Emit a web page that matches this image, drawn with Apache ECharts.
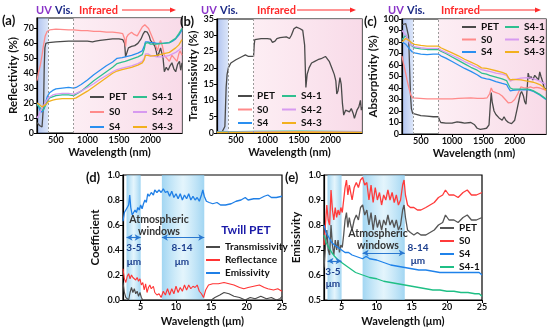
<!DOCTYPE html>
<html><head><meta charset="utf-8">
<script src="https://cdn.jsdelivr.net/npm/echarts@6/dist/echarts.min.js"></script>
<style>html,body{margin:0;padding:0;background:#fff}#c{width:550px;height:335px}</style>
</head><body><div id="c"></div>
<script>
// ---------- tick labels ----------
const nmTicks = [500, 1000, 1500, 2000];
const umTicks = [5, 10, 15, 20, 25];
const reflTicks = [0, 10, 20, 30, 40, 50, 60, 70];
const transTicks = [0, 5, 10, 15, 20, 25, 30, 35];
const absTicks = [0, 10, 20, 30, 40, 50, 60, 70, 80, 90, 100];
const coefTicks = [0, 0.2, 0.4, 0.6, 0.8, 1.0];
const emisTicks = [0.5, 0.6, 0.7, 0.8, 0.9, 1.0];
const namesA = ['PET', 'S0', 'S4', 'S4-1', 'S4-2', 'S4-3'];
const namesD = ['Transmissivity', 'Reflectance', 'Emissivity'];
const namesE = ['PET', 'S0', 'S4', 'S4-1'];

// ---------- (a) Reflectivity (%) vs wavelength (nm) ----------
const aPET = [[200,7],[220,6],[240,5],[260,4.5],[280,4],[295,5],[305,20],[315,45],[325,57],[340,60],[380,60.5],[500,61],[700,61.5],[780,61.5],[900,61.5],[1000,61.5],[1080,61],[1100,60.5],[1130,61.5],[1200,62],[1300,62.5],[1400,63],[1500,63],[1560,62.5],[1590,60],[1605,51],[1625,52],[1650,57],[1700,58],[1750,58.5],[1800,60],[1850,63],[1880,66],[1910,68],[1950,67.5],[1980,65],[2000,62],[2040,60],[2070,58],[2090,55],[2110,51],[2130,53],[2160,57],[2180,58],[2200,50],[2220,41],[2250,44],[2280,42],[2310,45],[2340,47],[2370,43],[2400,41],[2430,46],[2460,48],[2480,42],[2500,47]];
const aS0 = [[200,35],[220,40],[250,45],[280,52],[300,58],[330,65],[360,68],[400,69],[500,69.5],[700,69],[780,69],[900,68.5],[1000,68.5],[1100,68],[1200,68],[1300,67.5],[1400,67.5],[1500,67],[1560,66.5],[1590,63],[1605,58],[1620,64],[1650,66],[1700,67.5],[1740,66],[1790,65],[1830,68],[1870,71],[1910,72.5],[1940,72],[1970,70],[2000,67],[2040,63],[2080,59],[2110,55],[2140,60],[2160,62],[2190,58],[2220,52],[2260,50],[2300,48],[2340,52],[2380,50],[2420,48],[2450,53],[2470,55],[2500,52]];
const aS4 = [[200,20],[230,17],[260,14],[280,13],[300,15],[330,19],[360,24],[400,27],[450,28.5],[500,29.5],[600,30],[700,30.5],[780,30],[820,30.5],[900,32.5],[1000,35.5],[1100,39],[1200,42],[1300,45],[1400,47.5],[1470,50],[1550,50.5],[1600,51],[1700,52],[1800,53.5],[1870,55],[1900,58],[1920,61],[1960,61],[2000,60.5],[2050,60.5],[2100,60],[2150,60],[2200,60],[2300,60.5],[2350,61.5],[2400,63],[2450,65.5],[2500,69]];
const aS41 = [[200,19],[230,18],[260,16.5],[290,15],[320,17],[360,21],[400,23.5],[500,25],[600,25.5],[700,25.5],[780,25],[820,26],[900,28],[1000,31.5],[1100,35],[1200,38],[1300,41],[1400,44],[1470,46.5],[1550,47.5],[1600,48],[1700,49.5],[1800,51],[1870,52.5],[1900,56],[1920,60],[1960,60.5],[2000,59.5],[2100,59.5],[2200,60],[2300,60.5],[2350,62],[2400,63.5],[2450,66.5],[2500,70]];
const aS42 = [[200,10],[230,12],[260,15],[300,18],[340,21],[380,23.5],[450,25.5],[500,26],[600,26.5],[700,26.5],[780,26],[820,26.5],[900,28],[1000,30.5],[1100,33],[1200,36],[1300,38.5],[1400,41],[1470,42.5],[1550,43.5],[1600,44],[1700,45],[1800,46.5],[1870,48],[1900,50],[1920,53],[1960,53],[2000,52],[2100,51],[2200,51],[2300,52],[2400,54],[2450,55.5],[2500,57.5]];
const aS43 = [[200,20],[240,19],[280,17.5],[310,17.5],[340,19],[380,21],[450,22],[500,22.5],[600,23],[700,23],[780,23],[820,23.5],[900,25.5],[1000,28],[1100,31],[1200,34],[1300,37],[1400,40],[1470,41.5],[1550,42.5],[1600,43],[1700,44],[1800,45.5],[1870,47],[1900,49],[1920,52],[1960,52],[2000,51.5],[2100,52],[2200,53],[2300,54],[2400,57],[2450,59],[2500,62.5]];

// ---------- (b) Transmissivity (%) ----------
const bPET = [[200,0.2],[280,0.3],[310,0.5],[325,2],[335,8],[345,14],[360,18],[380,20],[420,21.5],[500,22.5],[600,23.5],[650,24],[700,23.5],[780,23.5],[790,27],[800,28.7],[900,29],[1000,29],[1050,28.8],[1080,27.8],[1120,28.2],[1150,29],[1200,29.3],[1300,29.5],[1350,29],[1380,30],[1420,32],[1460,32.5],[1520,32],[1560,31.5],[1590,27],[1610,14],[1630,18],[1660,20],[1700,21.5],[1750,22],[1800,22.5],[1850,22.8],[1880,23],[1920,23.5],[1950,23.2],[1980,22],[2020,20],[2060,18],[2085,16],[2100,12],[2120,13],[2150,17],[2170,15],[2190,9],[2210,5.5],[2240,7],[2265,7.5],[2300,6.5],[2330,7.5],[2360,6],[2380,4.5],[2420,7],[2450,8],[2475,10],[2490,7],[2500,8]];
const bS0 = [[200,0.3],[800,0.3],[1500,0.4],[2500,0.3]];
const bS4 = [[200,0.1],[800,0.2],[1500,0.3],[2500,0.2]];
const bS41 = [[200,0.3],[800,0.5],[1500,0.6],[2500,0.4]];
const bS42 = [[200,0.2],[800,0.3],[1500,0.4],[2500,0.3]];
const bS43 = [[200,0.1],[800,0.2],[1500,0.3],[2500,0.2]];

// ---------- (c) Absorptivity (%) ----------
const cPET = [[200,95],[220,96],[260,96],[290,95],[305,85],[320,60],[335,35],[350,22],[370,18],[400,17],[500,16],[600,15.5],[700,15],[780,15],[800,12],[820,10],[900,9.5],[1000,9.5],[1080,10.5],[1110,11],[1150,10],[1200,9.5],[1300,10],[1330,10.5],[1360,8],[1400,5],[1450,4],[1500,4.5],[1550,5],[1590,8],[1610,25],[1625,36],[1640,28],[1670,20],[1700,17],[1750,14],[1800,12],[1830,15],[1860,12],[1900,10],[1950,9],[2000,12],[2040,22],[2070,30],[2090,35],[2110,37],[2140,33],[2160,28],[2180,26],[2200,40],[2215,53],[2240,48],[2260,50],[2290,47],[2320,51],[2350,49],[2380,47],[2400,54],[2420,50],[2450,45],[2470,40],[2500,39]];
const cS0 = [[200,68],[220,62],[250,55],[280,47],[310,40],[340,34],[370,31.5],[400,30.5],[600,30.5],[780,30.5],[1000,30.5],[1100,31],[1300,31.5],[1400,31],[1500,31],[1560,31.5],[1600,35],[1625,40],[1650,37],[1700,36],[1750,35],[1800,33],[1850,30],[1900,27],[1950,27.5],[2000,30],[2050,35],[2100,41],[2130,42],[2160,40],[2200,40],[2250,41],[2300,40],[2350,40.5],[2400,40],[2450,39],[2500,38]];
const cS4 = [[200,80],[230,79],[260,78],[290,77],[320,74],[360,71.5],[400,70.5],[500,69.5],[600,69],[700,69.5],[780,69.5],[820,68],[900,66],[1000,63],[1100,60],[1200,57],[1300,54.5],[1400,51.5],[1470,49],[1550,48],[1600,47.5],[1700,45.5],[1800,44],[1870,43],[1900,40],[1930,37.5],[1970,38],[2000,38],[2100,38.5],[2200,38.5],[2250,38],[2300,37],[2350,35.5],[2400,34],[2450,32],[2500,30]];
const cS41 = [[200,82],[230,84],[260,86],[280,85.5],[310,81],[350,77],[400,75],[500,74],[600,73.5],[700,73.5],[780,73.5],[820,72],[900,70],[1000,67],[1100,64],[1200,61],[1300,58],[1400,55.5],[1470,53],[1550,52],[1600,51],[1700,49.5],[1800,48],[1870,46.5],[1900,43],[1930,40],[1970,39],[2000,39],[2100,39],[2200,39],[2250,38.5],[2300,37.5],[2350,36],[2400,34.5],[2450,32.5],[2500,30.5]];
const cS42 = [[200,90],[230,88],[260,86],[290,83],[320,79],[360,77],[400,76],[500,75],[600,74.5],[700,74.5],[780,74.5],[820,73],[900,71],[1000,68.5],[1100,66],[1200,63],[1300,60.5],[1400,58],[1470,56],[1550,55],[1600,54.5],[1700,53],[1800,52],[1870,51],[1900,48],[1930,46],[1970,47],[2000,47.5],[2100,48.5],[2200,49],[2250,48.5],[2300,48],[2350,47],[2400,46],[2450,44.5],[2500,43]];
const cS43 = [[200,80],[230,81.5],[260,83],[290,82.5],[320,81],[360,79],[400,78],[500,77],[600,76.5],[700,76.5],[780,76.5],[820,75],[900,73],[1000,70.5],[1100,68],[1200,65],[1300,62.5],[1400,60],[1470,57.5],[1550,57],[1600,56.5],[1700,55],[1800,53.5],[1870,52],[1900,49],[1930,47],[1970,47.5],[2000,47.5],[2100,47],[2200,46],[2300,45],[2350,44],[2400,43],[2450,41],[2500,38]];

// ---------- (d) Twill PET coefficients vs wavelength (µm) ----------
const dEmis = [[2.5,0.63],[2.7,0.70],[2.9,0.72],[3.1,0.73],[3.3,0.76],[3.45,0.84],[3.6,0.74],[3.8,0.68],[4.0,0.70],[4.2,0.72],[4.4,0.70],[4.6,0.74],[4.8,0.72],[5.0,0.76],[5.2,0.73],[5.4,0.77],[5.6,0.80],[5.8,0.78],[6.0,0.85],[6.2,0.83],[6.5,0.86],[6.8,0.84],[7.0,0.88],[7.3,0.86],[7.6,0.88],[7.9,0.86],[8.2,0.89],[8.5,0.86],[8.8,0.87],[9.1,0.83],[9.4,0.87],[9.7,0.82],[10.0,0.85],[10.3,0.81],[10.6,0.85],[10.9,0.80],[11.2,0.84],[11.5,0.81],[11.8,0.85],[12.1,0.80],[12.4,0.83],[12.7,0.80],[13.0,0.82],[13.3,0.79],[13.6,0.84],[13.8,0.88],[14.0,0.83],[14.3,0.79],[14.7,0.78],[15.2,0.77],[15.8,0.78],[16.3,0.76],[17,0.76],[17.8,0.77],[18.5,0.79],[19.2,0.80],[19.8,0.82],[20.2,0.80],[21,0.81],[21.8,0.81],[22.5,0.83],[23,0.84],[23.5,0.82],[24.2,0.82],[25,0.83]];
const dRefl = [[2.5,0.25],[2.7,0.17],[2.9,0.14],[3.1,0.19],[3.3,0.21],[3.5,0.17],[3.7,0.20],[3.9,0.18],[4.1,0.19],[4.3,0.16],[4.5,0.18],[4.7,0.15],[4.9,0.17],[5.1,0.12],[5.3,0.14],[5.5,0.08],[5.7,0.13],[5.9,0.06],[6.1,0.10],[6.3,0.12],[6.5,0.09],[6.8,0.11],[7.0,0.06],[7.3,0.04],[7.6,0.05],[7.9,0.02],[8.2,0.07],[8.5,0.04],[8.8,0.09],[9.1,0.04],[9.4,0.09],[9.7,0.05],[10.0,0.11],[10.3,0.06],[10.6,0.10],[10.9,0.07],[11.2,0.12],[11.5,0.08],[11.8,0.12],[12.1,0.09],[12.4,0.11],[12.7,0.10],[13.0,0.12],[13.3,0.07],[13.6,0.05],[13.9,0.02],[14.2,0.08],[14.6,0.12],[15.2,0.13],[16,0.13],[16.8,0.14],[17.5,0.13],[18.2,0.12],[19,0.10],[19.6,0.09],[20.2,0.10],[21,0.11],[21.8,0.12],[22.5,0.10],[23,0.09],[23.8,0.08],[24.4,0.09],[25,0.07]];
const dTrans = [[2.5,0.14],[2.7,0.06],[2.9,0.02],[3.1,0.01],[3.3,0.0],[3.5,0.06],[3.7,0.10],[3.9,0.06],[4.1,0.09],[4.3,0.05],[4.5,0.07],[4.7,0.03],[4.9,0.06],[5.1,0.02],[5.3,0.0],[6,0.0],[10,0.0],[14,0.0],[15,0.0],[15.5,0.02],[16.2,0.04],[16.8,0.06],[17.5,0.05],[18.2,0.03],[19,0.02],[19.8,0.0],[20.5,0.02],[21.2,0.01],[22,0.03],[22.8,0.01],[23.5,0.02],[24.2,0.0],[24.7,0.01],[25,0.03]];

// ---------- (e) Emissivity vs wavelength (µm) ----------
const ePET = [[2.5,0.63],[2.7,0.71],[2.9,0.78],[3.1,0.70],[3.3,0.68],[3.5,0.80],[3.7,0.72],[3.9,0.68],[4.1,0.74],[4.3,0.70],[4.5,0.74],[4.7,0.69],[4.9,0.72],[5.1,0.71],[5.3,0.76],[5.5,0.82],[5.7,0.85],[5.9,0.79],[6.1,0.83],[6.3,0.80],[6.5,0.78],[6.8,0.82],[7.1,0.84],[7.4,0.82],[7.7,0.87],[8.0,0.88],[8.3,0.84],[8.6,0.86],[8.9,0.80],[9.2,0.85],[9.5,0.78],[9.8,0.84],[10.1,0.79],[10.4,0.82],[10.7,0.78],[11.0,0.82],[11.3,0.80],[11.6,0.84],[11.9,0.80],[12.2,0.82],[12.5,0.79],[12.8,0.82],[13.1,0.78],[13.4,0.80],[13.7,0.86],[13.9,0.88],[14.1,0.83],[14.4,0.78],[14.8,0.77],[15.3,0.76],[15.8,0.77],[16.3,0.76],[17,0.76],[17.6,0.77],[18.2,0.78],[18.8,0.80],[19.4,0.81],[19.8,0.84],[20.3,0.82],[21,0.82],[21.6,0.81],[22.3,0.83],[22.9,0.84],[23.5,0.82],[24.2,0.82],[25,0.83]];
const eS0 = [[2.5,0.72],[2.7,0.80],[2.9,0.88],[3.1,0.82],[3.3,0.80],[3.5,0.94],[3.7,0.86],[3.9,0.82],[4.1,0.87],[4.3,0.83],[4.5,0.86],[4.7,0.84],[4.9,0.87],[5.1,0.85],[5.3,0.90],[5.5,0.95],[5.7,0.98],[5.9,0.92],[6.1,0.96],[6.3,0.93],[6.5,0.90],[6.8,0.95],[7.1,0.97],[7.4,0.95],[7.7,0.98],[8.0,0.99],[8.3,0.96],[8.6,0.97],[8.9,0.90],[9.2,0.96],[9.5,0.89],[9.8,0.95],[10.1,0.90],[10.4,0.93],[10.7,0.88],[11.0,0.92],[11.3,0.90],[11.6,0.94],[11.9,0.90],[12.2,0.93],[12.5,0.89],[12.8,0.92],[13.1,0.88],[13.4,0.90],[13.7,0.96],[13.9,0.98],[14.1,0.92],[14.4,0.88],[14.8,0.87],[15.3,0.87],[15.8,0.86],[16.3,0.86],[17,0.87],[17.6,0.88],[18.2,0.89],[18.8,0.91],[19.4,0.92],[19.8,0.94],[20.3,0.92],[21,0.92],[21.6,0.91],[22.3,0.93],[22.9,0.94],[23.5,0.92],[24.2,0.92],[25,0.93]];
const eS4 = [[2.5,0.80],[2.8,0.77],[3.2,0.75],[3.6,0.73],[4.0,0.72],[4.5,0.71],[5.0,0.70],[5.5,0.69],[6.0,0.69],[6.5,0.68],[7.0,0.675],[7.5,0.67],[8.0,0.665],[8.5,0.675],[9.0,0.665],[10,0.66],[11,0.65],[12,0.64],[13,0.635],[14,0.63],[15,0.625],[16,0.62],[17,0.62],[18,0.615],[19,0.61],[20,0.61],[21,0.61],[22,0.61],[23,0.61],[24,0.61],[24.6,0.61],[25,0.60]];
const eS41 = [[2.5,0.76],[2.8,0.73],[3.2,0.71],[3.6,0.69],[4.0,0.675],[4.5,0.66],[5.0,0.65],[5.5,0.64],[6.0,0.63],[6.5,0.62],[7.0,0.61],[8,0.60],[9,0.59],[10,0.585],[11,0.575],[12,0.57],[13,0.565],[14,0.56],[15,0.555],[16,0.55],[17,0.545],[18,0.54],[19,0.54],[20,0.535],[21,0.535],[22,0.53],[23,0.53],[24,0.525],[24.6,0.525],[25,0.515]];

// ---------- styling ----------
const F = 'Lato';
const colA = {'PET':'#4a4a4a','S0':'#ff8a8a','S4':'#2a8ff0','S4-1':'#2fbf8f','S4-2':'#d79af0','S4-3':'#f2b01e'};
const colD = {'Transmissivity':'#4a4a4a','Reflectance':'#ff3434','Emissivity':'#1f7fe6'};
const colE = {'PET':'#555555','S0':'#ff3b3b','S4':'#1f82ea','S4-1':'#1fbf85'};

const gridsPos = [
  {left:37, top:18, width:145, height:115},
  {left:217, top:19, width:145, height:114},
  {left:402, top:19, width:144, height:115},
  {left:123, top:175, width:159, height:125},
  {left:324, top:175, width:158, height:125}
];
const grid = gridsPos.map(g => Object.assign({show:true, borderColor:'#000', borderWidth:1.2, backgroundColor:'transparent'}, g));

const axLabel = {fontFamily:F, fontWeight:'bold', fontSize:9, color:'#111', margin:3};
const nameStyle = {fontFamily:F, fontWeight:'bold', fontSize:11, color:'#111'};
function xAx(i, min, max, ticks, name, gap) {
  return {gridIndex:i, type:'value', min, max, name, nameLocation:'middle', nameGap:gap, nameTextStyle:nameStyle,
    axisLine:{show:true, lineStyle:{color:'#000', width:1.2}}, splitLine:{show:false},
    axisTick:{show:true, length:3, customValues:ticks, lineStyle:{color:'#000'}},
    axisLabel:Object.assign({customValues:ticks, formatter:v => String(v)}, axLabel)};
}
function yAx(i, min, max, ticks, name, gap, fmt) {
  return {gridIndex:i, type:'value', min, max, name, nameLocation:'middle', nameGap:gap, nameRotate:90,
    nameTextStyle:Object.assign({}, nameStyle, {fontSize:11.5}),
    axisLine:{show:true, lineStyle:{color:'#000', width:1.2}}, splitLine:{show:false},
    axisTick:{show:true, length:3, customValues:ticks, lineStyle:{color:'#000'}},
    axisLabel:Object.assign({customValues:ticks, formatter:fmt || (v => String(v))}, axLabel)};
}
const xAxis = [
  xAx(0, 200, 2500, nmTicks, 'Wavelength (nm)', 14),
  xAx(1, 200, 2500, nmTicks, 'Wavelength (nm)', 14),
  xAx(2, 200, 2500, nmTicks, 'Wavelength (nm)', 14),
  xAx(3, 2.5, 25, umTicks, 'Wavelength (μm)', 16),
  xAx(4, 2.5, 25, umTicks, 'Wavelength (μm)', 16)
];
const yAxis = [
  yAx(0, 0, 77, reflTicks, 'Reflectivity (%)', 18),
  yAx(1, 0, 35, transTicks, 'Transmissivity (%)', 18),
  yAx(2, 0, 100, absTicks, 'Absorptivity (%)', 22),
  yAx(3, 0, 1.0, coefTicks, 'Coefficient', 22, v => v.toFixed(1)),
  yAx(4, 0.5, 1.0, emisTicks, 'Emissivity', 22, v => v.toFixed(1))
];

const uvGrad = {type:'linear', x:0, y:0, x2:1, y2:0, colorStops:[{offset:0, color:'rgba(110,145,228,0.55)'},{offset:1, color:'rgba(175,198,240,0.45)'}]};
const irGrad = {type:'linear', x:0, y:0, x2:1, y2:0, colorStops:[{offset:0, color:'rgba(252,232,240,0.75)'},{offset:1, color:'rgba(247,212,228,0.85)'}]};
const winGrad = {type:'linear', x:0, y:0, x2:1, y2:0, colorStops:[{offset:0, color:'rgba(130,200,238,0.75)'},{offset:0.5, color:'rgba(205,236,250,0.55)'},{offset:1, color:'rgba(130,200,238,0.75)'}]};

function specMarks() {
  return {
    markArea:{silent:true, z:0, data:[
      [{xAxis:200, itemStyle:{color:uvGrad}}, {xAxis:380}],
      [{xAxis:780, itemStyle:{color:irGrad}}, {xAxis:2500}]
    ]},
    markLine:{silent:true, symbol:'none', label:{show:false}, lineStyle:{color:'#9a9a9a', type:[2,2], width:1},
      data:[{xAxis:380}, {xAxis:780}]}
  };
}
function winMarks(yArrow35, yArrow814) {
  return {
    markArea:{silent:true, z:0, data:[
      [{xAxis:3, itemStyle:{color:winGrad}}, {xAxis:5}],
      [{xAxis:8, itemStyle:{color:winGrad}}, {xAxis:14}]
    ]},
    markLine:{silent:true, symbol:['arrow','arrow'], symbolSize:[5,6], label:{show:false},
      lineStyle:{color:'#2a78d0', type:'solid', width:1.2},
      data:[[{coord:[3, yArrow35]}, {coord:[5, yArrow35]}], [{coord:[8, yArrow814]}, {coord:[14, yArrow814]}]]}
  };
}
function line(i, name, data, color, width, extra) {
  return Object.assign({type:'line', name, xAxisIndex:i, yAxisIndex:i, data, showSymbol:false, symbol:'none',
    lineStyle:{color, width}, itemStyle:{color}, animation:false, z:3}, extra || {});
}

const series = [];
const aData = [aPET, aS0, aS4, aS41, aS42, aS43];
const bData = [bPET, bS0, bS4, bS41, bS42, bS43];
const cData = [cPET, cS0, cS4, cS41, cS42, cS43];
[aData, bData, cData].forEach((arr, gi) => {
  arr.forEach((d, k) => {
    const nm = namesA[k];
    series.push(line(gi, nm, d, colA[nm], 1.3, k === 0 ? specMarks() : null));
  });
});
series.push(line(3, 'Transmissivity', dTrans, colD['Transmissivity'], 1.1, winMarks(0.5, 0.5)));
series.push(line(3, 'Reflectance', dRefl, colD['Reflectance'], 1.1));
series.push(line(3, 'Emissivity', dEmis, colD['Emissivity'], 1.3));
[ePET, eS0, eS4, eS41].forEach((d, k) => {
  const nm = namesE[k];
  series.push(line(4, nm, d, colE[nm], 1.3, k === 0 ? winMarks(0.656, 0.688) : null));
});

const legTxt = {fontFamily:F, fontWeight:'bold', fontSize:10, color:'#111', lineHeight:12};
function leg(left, top, names, cmap, gap) {
  return {left, top, orient:'vertical', icon:'rect', itemWidth:14, itemHeight:2, itemGap:gap, padding:0,
    selectedMode:false, textStyle:legTxt,
    data:names.map(n => ({name:n, itemStyle:{color:cmap[n]}}))};
}
const legend = [
  leg(90, 91, namesA.slice(0,3), colA, 3),
  leg(133, 91, namesA.slice(3), colA, 3),
  leg(238, 90, namesA.slice(0,3), colA, 1.5),
  leg(282, 90, namesA.slice(3), colA, 1.5),
  leg(462, 21, namesA.slice(0,3), colA, 0.5),
  leg(505, 21, namesA.slice(3), colA, 0.5),
  leg(206, 241, namesD, colD, 1),
  leg(440, 222, namesE, colE, 1)
];

// ---------- annotations ----------
function txt(x, y, s, fill, size, align) {
  return {type:'text', silent:true, z:100, style:{text:s, x, y, fill, align:align || 'left', verticalAlign:'middle',
    font:'bold ' + size + 'px ' + F}};
}
function topRow(uvX, visX, irX, a1, a2) {
  return [
    txt(uvX, 10, 'UV', '#8a34c8', 11),
    txt(visX, 10, 'Vis.', '#1c2b86', 11),
    txt(irX, 10, 'Infrared', '#ff2a2a', 11),
    {type:'line', silent:true, shape:{x1:a1, y1:10, x2:a2 - 4, y2:10}, style:{stroke:'#ff2a2a', lineWidth:1.2}},
    {type:'polygon', silent:true, shape:{points:[[a2,10],[a2-6,7.5],[a2-6,12.5]]}, style:{fill:'#ff2a2a'}}
  ];
}
const graphic = [].concat(
  topRow(36, 55, 79, 122, 176),
  topRow(201, 220, 257, 297, 356),
  topRow(388, 407, 441, 480, 541),
  [
    txt(2, 21, '(a)', '#111', 13),
    txt(180, 22, '(b)', '#111', 13),
    txt(364, 22, '(c)', '#111', 13),
    txt(86, 178, '(d)', '#111', 13),
    txt(285, 178, '(e)', '#111', 13),
    txt(159, 220, 'Atmospheric', '#333', 10.5, 'center'),
    txt(159, 232, 'windows', '#333', 10.5, 'center'),
    txt(246, 230, 'Twill PET', '#1a1aa8', 12, 'center'),
    txt(134, 248, '3-5', '#1c3f8e', 10, 'center'),
    txt(134, 262, 'μm', '#1c3f8e', 10, 'center'),
    txt(182, 248, '8-14', '#1c3f8e', 10, 'center'),
    txt(182, 262, 'μm', '#1c3f8e', 10, 'center'),
    txt(378, 234, 'Atmospheric', '#333', 10.5, 'center'),
    txt(378, 246, 'windows', '#333', 10.5, 'center'),
    txt(418, 248, '8-14', '#1c3f8e', 10, 'center'),
    txt(418, 261, 'μm', '#1c3f8e', 10, 'center'),
    txt(333, 272, '3-5', '#1c3f8e', 10, 'center'),
    txt(333, 284, 'μm', '#1c3f8e', 10, 'center')
  ]
);

const chart = echarts.init(document.getElementById('c'), null, {renderer:'canvas'});
chart.setOption({animation:false, backgroundColor:'#fff', grid, xAxis, yAxis, series, legend, graphic});
</script></body></html>
